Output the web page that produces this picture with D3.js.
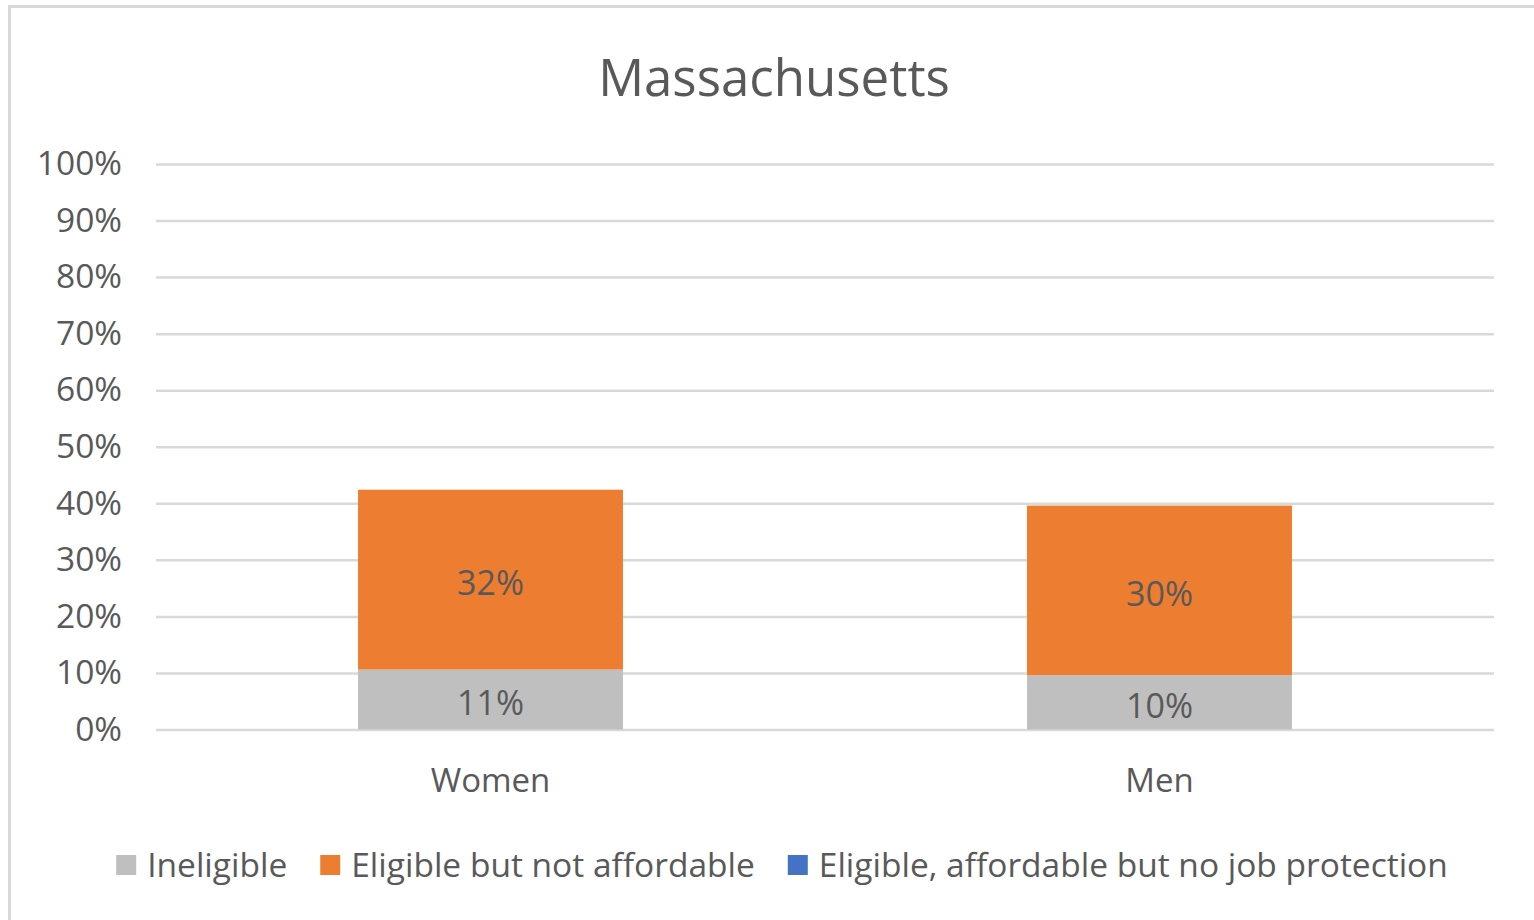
<!DOCTYPE html>
<html lang="en">
<head>
    <meta charset="utf-8">
    <title>Massachusetts</title>
    <script type="text/javascript" src="https://cdn.jsdelivr.net/npm/d3@7"></script>
    <style>
        body { margin: 0; background: #fff; }
        text { font-family: "Open Sans", sans-serif; fill: #595959; }
    </style>
</head>
<body>
    <script type="text/javascript">

        // data
        var groups = ["Women", "Men"];
        var series = ["Ineligible", "Eligible but not affordable", "Eligible, affordable but no job protection"];
        var ineligible = [0.106, 0.096];
        var notAffordable = [0.318, 0.300];
        var noProtection = [0, 0];
        var yTicks = [0, 0.1, 0.2, 0.3, 0.4, 0.5, 0.6, 0.7, 0.8, 0.9, 1];

        var colors = ["#bfbfbf", "#ed7d31", "#4472c4"];

        var w = 1534;
        var h = 920;
        var plotL = 156, plotR = 1494, plotT = 164, plotB = 729.5;

        var rows = groups.map(function(g, i) {
            return {group: g, s0: ineligible[i], s1: notAffordable[i], s2: noProtection[i]};
        });

        var stack = d3.stack().keys(["s0", "s1", "s2"]);
        var layers = stack(rows);

        var svg = d3.select("body")
            .append("svg")
            .attr("width", w)
            .attr("height", h);

        // chart border (only top/left visible in the crop)
        svg.append("rect")
            .attr("x", 9.5)
            .attr("y", 6.5)
            .attr("width", w + 20)
            .attr("height", h + 20)
            .attr("fill", "none")
            .attr("stroke", "#d9d9d9")
            .attr("stroke-width", 3);

        var x = d3.scaleBand()
            .domain(groups)
            .range([plotL, plotR])
            .paddingInner(0.604)
            .paddingOuter(0.302);

        var y = d3.scaleLinear()
            .domain([0, 1])
            .range([plotB, plotT]);

        // gridlines + tick labels
        var yAxis = svg.append("g")
            .attr("transform", "translate(" + plotL + ",0)")
            .call(d3.axisLeft(y)
                .tickValues(yTicks)
                .tickSize(-(plotR - plotL))
                .tickPadding(34)
                .tickFormat(d3.format(".0%")));
        yAxis.select(".domain").remove();
        yAxis.selectAll("line")
            .attr("stroke", "#d9d9d9")
            .attr("stroke-width", 2.5);
        yAxis.selectAll("text")
            .attr("font-size", 33.5)
            .attr("font-family", "'Open Sans', sans-serif")
            .attr("fill", "#595959");

        // bars
        var layer = svg.selectAll("g.layer")
            .data(layers)
            .enter()
            .append("g")
            .attr("class", "layer")
            .attr("fill", function(d, i) { return colors[i]; });

        layer.selectAll("rect")
            .data(function(d) { return d; })
            .enter()
            .append("rect")
            .attr("x", function(d) { return x(d.data.group); })
            .attr("width", x.bandwidth())
            .attr("y", function(d) { return y(d[1]); })
            .attr("height", function(d) { return y(d[0]) - y(d[1]); });

        // data labels
        layer.selectAll("text")
            .data(function(d) { return d.filter(function(p) { return p[1] - p[0] > 0; }); })
            .enter()
            .append("text")
            .attr("x", function(d) { return x(d.data.group) + x.bandwidth() / 2; })
            .attr("y", function(d) { return y((d[0] + d[1]) / 2); })
            .attr("dy", "0.45em")
            .attr("text-anchor", "middle")
            .attr("font-size", 34)
            .attr("fill", "#404040")
            .text(function(d) { return d3.format(".0%")(d[1] - d[0]); });

        // category axis labels
        svg.selectAll("text.cat")
            .data(groups)
            .enter()
            .append("text")
            .attr("class", "cat")
            .attr("x", function(d) { return x(d) + x.bandwidth() / 2; })
            .attr("y", 780)
            .attr("dy", "0.36em")
            .attr("text-anchor", "middle")
            .attr("font-size", 33)
            .text(function(d) { return d; });

        // title
        svg.append("text")
            .attr("x", 774)
            .attr("y", 78)
            .attr("dy", "0.36em")
            .attr("text-anchor", "middle")
            .attr("font-size", 51)
            .text("Massachusetts");

        // legend
        var legend = svg.append("g");
        var items = legend.selectAll("g")
            .data(series)
            .enter()
            .append("g");
        items.append("rect")
            .attr("width", 20)
            .attr("height", 20)
            .attr("y", 855)
            .attr("fill", function(d, i) { return colors[i]; });
        items.append("text")
            .attr("x", 31)
            .attr("y", 865)
            .attr("dy", "0.36em")
            .attr("font-size", 33.5)
            .text(function(d) { return d; });

        var pos = 0, widths = [];
        items.each(function() {
            var tw = d3.select(this).select("text").node().getComputedTextLength();
            widths.push(31 + tw);
        });
        var total = d3.sum(widths) + 33 * (widths.length - 1);
        var start = 782 - total / 2;
        items.attr("transform", function(d, i) {
            var t = "translate(" + (start + pos) + ",0)";
            pos += widths[i] + 33;
            return t;
        });

    </script>
</body>
</html>
